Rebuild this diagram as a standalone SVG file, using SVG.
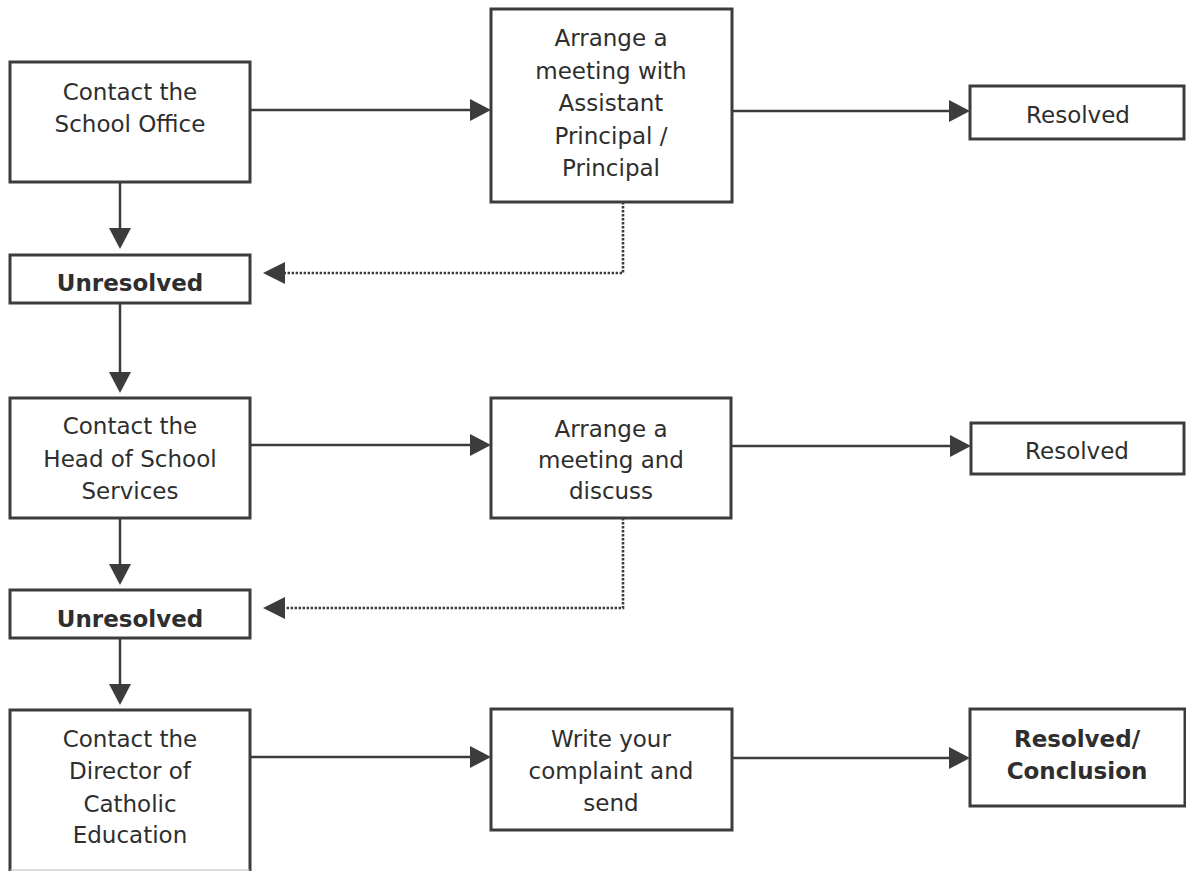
<svg xmlns="http://www.w3.org/2000/svg" width="1186" height="871" viewBox="0 0 1186 871">
<style>
.box{fill:#fff;stroke:#3c3c3c;stroke-width:3}
.t{font-family:"DejaVu Sans","Verdana",sans-serif;font-size:23px;fill:#2e2e2e;text-anchor:middle}
.b{font-weight:bold}
.ln{fill:none;stroke:#3c3c3c;stroke-width:2.5}
.dot{fill:none;stroke:#3c3c3c;stroke-width:2.6;stroke-dasharray:2.4 1.6}
.ah{fill:#3c3c3c}
</style>
<rect width="1186" height="871" fill="#fff"/>
<g id="connectors">
<line class="ln" x1="250" y1="110" x2="472" y2="110"/>
<polygon class="ah" points="491,110 470,99 470,121"/>
<line class="ln" x1="732" y1="111" x2="952" y2="111"/>
<polygon class="ah" points="970,111 949,100 949,122"/>
<line class="ln" x1="120" y1="182" x2="120" y2="230"/>
<polygon class="ah" points="120,249 109,228 131,228"/>
<polyline class="dot" points="623,202 623,273 285,273"/>
<polygon class="ah" points="263,273 285,262 285,284"/>
<line class="ln" x1="120" y1="303" x2="120" y2="375"/>
<polygon class="ah" points="120,393 109,372 131,372"/>
<line class="ln" x1="250" y1="445" x2="472" y2="445"/>
<polygon class="ah" points="491,445 470,434 470,456"/>
<line class="ln" x1="731" y1="446" x2="952" y2="446"/>
<polygon class="ah" points="971,446 950,435 950,457"/>
<line class="ln" x1="120" y1="518" x2="120" y2="566"/>
<polygon class="ah" points="120,585 109,564 131,564"/>
<polyline class="dot" points="623,518 623,608 285,608"/>
<polygon class="ah" points="263,608 285,597 285,619"/>
<line class="ln" x1="120" y1="638" x2="120" y2="686"/>
<polygon class="ah" points="120,705 109,684 131,684"/>
<line class="ln" x1="250" y1="757" x2="472" y2="757"/>
<polygon class="ah" points="491,757 470,746 470,768"/>
<line class="ln" x1="732" y1="758" x2="952" y2="758"/>
<polygon class="ah" points="970,758 949,747 949,769"/>
</g>
<g id="n1">
<rect class="box" x="10" y="62" width="240" height="120"/>
<text class="t" x="130" y="100">Contact the</text>
<text class="t" x="130" y="132">School Office</text>
</g>
<g id="n2">
<rect class="box" x="491" y="9" width="241" height="193"/>
<text class="t" x="611" y="46">Arrange a</text>
<text class="t" x="611" y="78.5">meeting with</text>
<text class="t" x="611" y="111">Assistant</text>
<text class="t" x="611" y="143.5">Principal /</text>
<text class="t" x="611" y="176">Principal</text>
</g>
<g id="n3">
<rect class="box" x="970" y="86" width="214" height="53"/>
<text class="t" x="1078" y="123">Resolved</text>
</g>
<g id="n4">
<rect class="box" x="10" y="255" width="240" height="48"/>
<text class="t b" x="130" y="291">Unresolved</text>
</g>
<g id="n5">
<rect class="box" x="10" y="398" width="240" height="120"/>
<text class="t" x="130" y="434">Contact the</text>
<text class="t" x="130" y="466.5">Head of School</text>
<text class="t" x="130" y="499">Services</text>
</g>
<g id="n6">
<rect class="box" x="491" y="398" width="240" height="120"/>
<text class="t" x="611" y="437">Arrange a</text>
<text class="t" x="611" y="468">meeting and</text>
<text class="t" x="611" y="499">discuss</text>
</g>
<g id="n7">
<rect class="box" x="971" y="423" width="213" height="51"/>
<text class="t" x="1077" y="459">Resolved</text>
</g>
<g id="n8">
<rect class="box" x="10" y="590" width="240" height="48"/>
<text class="t b" x="130" y="627">Unresolved</text>
</g>
<g id="n9">
<path d="M10,871 V710 H250 V871" fill="#fff" stroke="#3c3c3c" stroke-width="3"/>
<line x1="10" y1="870" x2="250" y2="870" stroke="#bbb" stroke-width="1"/>
<text class="t" x="130" y="747">Contact the</text>
<text class="t" x="130" y="779">Director of</text>
<text class="t" x="130" y="812">Catholic</text>
<text class="t" x="130" y="843">Education</text>
</g>
<g id="n10">
<rect class="box" x="491" y="709" width="241" height="121"/>
<text class="t" x="611" y="747">Write your</text>
<text class="t" x="611" y="779">complaint and</text>
<text class="t" x="611" y="811">send</text>
</g>
<g id="n11">
<rect class="box" x="970" y="709" width="215" height="97"/>
<text class="t b" x="1077" y="747">Resolved/</text>
<text class="t b" x="1077" y="779">Conclusion</text>
</g>
</svg>
